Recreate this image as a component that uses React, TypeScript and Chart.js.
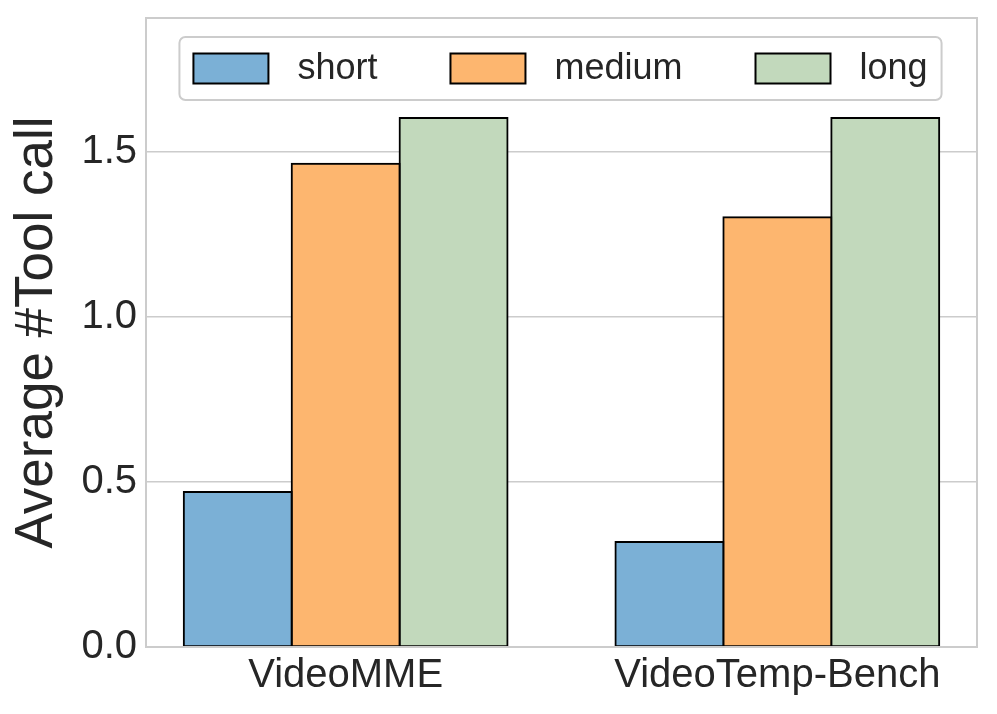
import React, { useEffect, useRef } from "react";
import { Chart, registerables } from "chart.js";

Chart.register(...registerables);

const categories = ["VideoMME", "VideoTemp-Bench"];
const seriesNames = ["short", "medium", "long"];
const shortValues = [0.47, 0.318];
const mediumValues = [1.464, 1.302];
const longValues = [1.603, 1.603];
const yTicks = [0, 0.5, 1.0, 1.5];
const colors = ["#7bb0d6", "#fdb66f", "#c2d9bc"];

const FONT = "'Liberation Sans', Arial, Helvetica, sans-serif";
const TEXT = "#262626";
const GRID = "#cccccc";

const framePlugin = {
  id: "frame",
  afterDatasetsDraw(chart: any) {
    const { ctx, chartArea: a } = chart;
    ctx.save();
    ctx.strokeStyle = GRID;
    ctx.lineWidth = 2;
    ctx.strokeRect(a.left, a.top, a.right - a.left, a.bottom - a.top);
    ctx.restore();
  },
};

const legendPlugin = {
  id: "innerLegend",
  afterDraw(chart: any) {
    const { ctx, chartArea: a } = chart;
    const fs = 36;
    const patchW = 75;
    const patchH = 30;
    const textGap = 29;
    const colGap = 73;
    const pad = 14;
    ctx.save();
    ctx.font = `${fs}px ${FONT}`;
    const items = chart.data.datasets.map((d: any) => ({
      label: d.label,
      color: d.backgroundColor,
      w: ctx.measureText(d.label).width,
    }));
    let total = 0;
    items.forEach((it: any, i: number) => {
      total += patchW + textGap + it.w + (i < items.length - 1 ? colGap : 0);
    });
    const boxW = total + pad * 2;
    const boxH = 63;
    const boxX = (a.left + a.right) / 2 - boxW / 2 - 1;
    const boxY = a.top + 19;
    const r = 6;
    ctx.beginPath();
    ctx.moveTo(boxX + r, boxY);
    ctx.arcTo(boxX + boxW, boxY, boxX + boxW, boxY + boxH, r);
    ctx.arcTo(boxX + boxW, boxY + boxH, boxX, boxY + boxH, r);
    ctx.arcTo(boxX, boxY + boxH, boxX, boxY, r);
    ctx.arcTo(boxX, boxY, boxX + boxW, boxY, r);
    ctx.closePath();
    ctx.fillStyle = "rgba(255,255,255,0.8)";
    ctx.fill();
    ctx.strokeStyle = GRID;
    ctx.lineWidth = 2;
    ctx.stroke();
    let x = boxX + pad;
    const cy = boxY + boxH / 2;
    items.forEach((it: any) => {
      ctx.fillStyle = it.color;
      ctx.fillRect(x, cy - patchH / 2, patchW, patchH);
      ctx.strokeStyle = "#000";
      ctx.lineWidth = 2;
      ctx.strokeRect(x, cy - patchH / 2, patchW, patchH);
      x += patchW + textGap;
      ctx.fillStyle = TEXT;
      ctx.textBaseline = "middle";
      ctx.textAlign = "left";
      ctx.fillText(it.label, x, cy + 1);
      x += it.w + colGap;
    });
    ctx.restore();
  },
};

export default function App() {
  const ref = useRef<HTMLCanvasElement | null>(null);
  useEffect(() => {
    if (!ref.current) return;
    const valuesList = [shortValues, mediumValues, longValues];
    const chart = new Chart(ref.current, {
      type: "bar",
      data: {
        datasets: seriesNames.map((name, i) => ({
          label: name,
          data: categories.map((_, j) => ({ x: j, y: valuesList[i][j] })),
          backgroundColor: colors[i],
          borderColor: "#000000",
          borderWidth: 2,
          borderSkipped: false,
          inflateAmount: 1,
          categoryPercentage: 0.75,
          barPercentage: 1.0,
        })),
      },
      options: {
        animation: false,
        responsive: false,
        maintainAspectRatio: false,
        layout: { padding: { left: 0, top: 18, right: 20, bottom: 0 } },
        plugins: { legend: { display: false }, tooltip: { enabled: false } },
        scales: {
          x: {
            type: "linear",
            offset: false,
            min: -0.4625,
            max: 1.4625,
            grid: { display: false, drawTicks: false, offset: false },
            border: { display: false },
            afterBuildTicks: (scale: any) => {
              scale.ticks = categories.map((_, j) => ({ value: j }));
            },
            afterFit: (scale: any) => {
              scale.height = 67;
              scale.paddingLeft = 0;
              scale.paddingRight = 0;
            },
            ticks: {
              autoSkip: false,
              maxRotation: 0,
              padding: 5,
              color: TEXT,
              font: { family: FONT, size: 40 },
              callback: (v: any) => categories[v as number] ?? "",
            },
          },
          y: {
            min: 0,
            max: 1.906,
            afterBuildTicks: (scale: any) => {
              scale.ticks = yTicks.map((v) => ({ value: v }));
            },
            afterFit: (scale: any) => {
              scale.width = 146;
              scale.paddingTop = 0;
              scale.paddingBottom = 0;
            },
            grid: { color: GRID, lineWidth: 1.5, drawTicks: false },
            border: { display: false },
            ticks: {
              padding: 9,
              color: TEXT,
              font: { family: FONT, size: 40 },
              callback: (v: any) => Number(v).toFixed(1),
            },
            title: {
              display: true,
              text: "Average #Tool call",
              color: TEXT,
              font: { family: FONT, size: 53 },
              padding: { top: 6, bottom: 0 },
            },
          },
        },
      },
      plugins: [framePlugin, legendPlugin],
    });
    return () => chart.destroy();
  }, []);
  return (
    <div style={{ position: "absolute", left: 0, top: 0, width: 997, height: 714, background: "#fff" }}>
      <canvas ref={ref} width={997} height={714} style={{ width: 997, height: 714 }} />
    </div>
  );
}
